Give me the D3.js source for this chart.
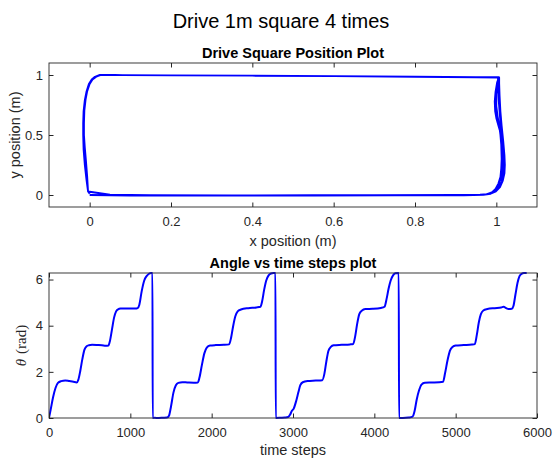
<!DOCTYPE html>
<html>
<head>
<meta charset="utf-8">
<script src="https://cdn.jsdelivr.net/npm/d3@7"></script>
<style>
  body { margin: 0; background: #fff; }
  text { font-family: "Liberation Sans", Arial, sans-serif; fill: #262626; }
</style>
</head>
<body>
<svg id="fig"></svg>
<script>
// Robot position, 4 laps of the square (x, y in metres)
const posX = [
  0.000, 0.10, 0.30, 0.50, 0.70, 0.90, 0.960, 0.978, 0.990, 0.999, 1.006, 1.011, 1.014, 1.015, 1.014, 1.012, 1.009, 1.006, 1.004, 1.004,
  0.950, 0.80, 0.60, 0.40, 0.20, 0.08, 0.027, 0.015, 0.006, -0.001, -0.007, -0.011, -0.014, -0.015, -0.015, -0.013, -0.010, -0.007, -0.004,
  0.05, 0.15, 0.35, 0.55, 0.75, 0.92, 0.965, 0.983, 0.996, 1.006, 1.013, 1.017, 1.019, 1.018, 1.014, 1.010, 1.005, 1.000, 0.997, 0.996, 0.998, 1.002, 1.006,
  0.950, 0.80, 0.60, 0.40, 0.20, 0.08, 0.025, 0.013, 0.005, -0.002, -0.008, -0.012, -0.015, -0.016, -0.016, -0.015, -0.012, -0.008, -0.004,
  0.05, 0.15, 0.35, 0.55, 0.75, 0.92, 0.968, 0.986, 0.999, 1.009, 1.016, 1.020, 1.021, 1.020, 1.017, 1.013, 1.010, 1.008, 1.007, 1.007,
  0.950, 0.80, 0.60, 0.40, 0.20, 0.08, 0.026, 0.014, 0.006, -0.001, -0.007, -0.011, -0.014, -0.015, -0.014, -0.012, -0.009, -0.006, -0.004,
  0.05, 0.15, 0.35, 0.55, 0.75, 0.90, 0.955, 0.975, 0.989, 0.998, 1.005, 1.010, 1.012, 1.013, 1.012, 1.010, 1.007, 1.003, 1.000, 1.000, 1.002, 1.005,
  0.950, 0.80, 0.60, 0.40, 0.20, 0.08, 0.028, 0.016, 0.007, 0.000, -0.006, -0.010, -0.013, -0.014, -0.014, -0.013, -0.011, -0.007, -0.004, 0.000
];
const posY = [
  0.000, -0.004, -0.004, -0.003, -0.002, 0.000, 0.002, 0.008, 0.025, 0.050, 0.090, 0.140, 0.200, 0.280, 0.400, 0.520, 0.650, 0.780, 0.900, 0.978,
  0.980, 0.984, 0.990, 0.994, 0.997, 0.999, 1.000, 0.985, 0.960, 0.920, 0.860, 0.790, 0.700, 0.600, 0.500, 0.380, 0.250, 0.130, 0.030,
  0.003, -0.002, -0.003, -0.002, -0.001, 0.000, 0.003, 0.010, 0.030, 0.060, 0.110, 0.170, 0.240, 0.330, 0.450, 0.520, 0.580, 0.640, 0.700, 0.780, 0.860, 0.940, 0.982,
  0.982, 0.986, 0.990, 0.994, 0.997, 0.999, 1.001, 0.985, 0.962, 0.925, 0.860, 0.790, 0.700, 0.600, 0.500, 0.380, 0.250, 0.130, 0.028,
  0.001, -0.004, -0.005, -0.004, -0.003, -0.002, 0.001, 0.010, 0.030, 0.065, 0.120, 0.180, 0.250, 0.330, 0.450, 0.580, 0.700, 0.830, 0.930, 0.980,
  0.981, 0.985, 0.990, 0.994, 0.997, 0.999, 0.999, 0.984, 0.960, 0.922, 0.860, 0.790, 0.700, 0.600, 0.500, 0.400, 0.280, 0.150, 0.030,
  0.002, -0.003, -0.004, -0.003, -0.002, -0.001, 0.001, 0.006, 0.022, 0.050, 0.095, 0.150, 0.220, 0.300, 0.420, 0.500, 0.580, 0.660, 0.740, 0.840, 0.930, 0.979,
  0.980, 0.984, 0.990, 0.994, 0.997, 0.999, 1.000, 0.986, 0.962, 0.925, 0.865, 0.795, 0.705, 0.600, 0.500, 0.390, 0.260, 0.140, 0.030, 0.010
];

// Heading angle against time step
const stepT = [
  0, 20, 50, 80, 110, 150, 200, 250, 300, 340, 360, 385, 410, 435, 460, 490, 530, 600, 650, 700, 730, 750, 775, 800, 825, 850, 880, 930, 1000, 1060, 1090, 1110, 1140, 1170, 1200, 1230, 1255, 1272,
  1275, 1300, 1350, 1400, 1450, 1475, 1500, 1530, 1560, 1590, 1640, 1700, 1780, 1830, 1850, 1880, 1910, 1940, 1980, 2050, 2150, 2215, 2240, 2265, 2290, 2320, 2360, 2450, 2550, 2600, 2620, 2645, 2670, 2700, 2730, 2760, 2784,
  2788, 2850, 2900, 2940, 2965, 2985, 3010, 3040, 3065, 3090, 3120, 3180, 3280, 3360, 3385, 3410, 3435, 3465, 3500, 3600, 3700, 3740, 3765, 3790, 3815, 3845, 3890, 3980, 4080, 4125, 4150, 4175, 4200, 4230, 4260, 4300,
  4304, 4350, 4420, 4470, 4495, 4520, 4550, 4580, 4620, 4700, 4800, 4845, 4870, 4900, 4930, 4960, 5000, 5100, 5200, 5235, 5260, 5285, 5310, 5340, 5390, 5480, 5560, 5590, 5620, 5650, 5690, 5710, 5735, 5760, 5785, 5810, 5840, 5873
];
const thetaVals = [
  0, 0.35, 0.9, 1.3, 1.52, 1.6, 1.63, 1.6, 1.57, 1.54, 1.65, 2.05, 2.55, 2.95, 3.1, 3.15, 3.17, 3.16, 3.15, 3.13, 3.14, 3.35, 3.85, 4.35, 4.62, 4.71, 4.74, 4.75, 4.74, 4.74, 4.76, 4.9, 5.5, 5.95, 6.15, 6.25, 6.28, 6.28,
  0, 0.01, 0.0, 0.01, 0.02, 0.1, 0.5, 1.1, 1.42, 1.52, 1.55, 1.54, 1.53, 1.54, 1.75, 2.3, 2.8, 3.05, 3.14, 3.16, 3.17, 3.19, 3.5, 4.0, 4.4, 4.62, 4.7, 4.76, 4.79, 4.82, 5.05, 5.55, 5.95, 6.18, 6.26, 6.28, 6.28,
  0, 0.01, 0.02, 0.04, 0.15, 0.3, 0.42, 0.75, 1.1, 1.42, 1.55, 1.6, 1.62, 1.64, 1.9, 2.45, 2.9, 3.08, 3.15, 3.17, 3.19, 3.21, 3.55, 4.1, 4.5, 4.65, 4.72, 4.73, 4.77, 4.82, 5.15, 5.6, 5.95, 6.18, 6.27, 6.28,
  0, 0.0, 0.02, 0.06, 0.3, 0.78, 1.2, 1.45, 1.53, 1.54, 1.55, 1.57, 1.95, 2.5, 2.92, 3.08, 3.14, 3.16, 3.18, 3.2, 3.6, 4.15, 4.5, 4.66, 4.72, 4.76, 4.79, 4.82, 4.76, 4.72, 4.73, 4.85, 5.35, 5.85, 6.15, 6.25, 6.28, 6.28
];

// Tick values
const posXTicks = [0, 0.2, 0.4, 0.6, 0.8, 1];
const posYTicks = [0, 0.5, 1];
const stepTicks = [0, 1000, 2000, 3000, 4000, 5000, 6000];
const thetaTicks = [0, 2, 4, 6];

const W = 553, H = 459;
const svg = d3.select("#fig").attr("width", W).attr("height", H);
svg.append("rect").attr("width", W).attr("height", H).attr("fill", "#fff");

//Figure title
svg.append("text")
  .attr("x", 281).attr("y", 28)
  .attr("text-anchor", "middle")
  .style("font-size", "20px")
  .style("fill", "#000")
  .text("Drive 1m square 4 times");

//Draws one framed axes box with inward ticks on all four sides
function drawAxes(box, xScale, yScale, xTicks, yTicks, fmtX, fmtY) {
  const g = svg.append("g");
  const w = box.right - box.left, h = box.bottom - box.top;
  const tick = 4.5;

  g.append("g").attr("transform", "translate(0," + box.bottom + ")")
    .call(d3.axisBottom(xScale).tickValues(xTicks).tickFormat(fmtX).tickSizeInner(-tick).tickSizeOuter(0).tickPadding(10));
  g.append("g").attr("transform", "translate(" + box.left + ",0)")
    .call(d3.axisLeft(yScale).tickValues(yTicks).tickFormat(fmtY).tickSizeInner(-tick).tickSizeOuter(0).tickPadding(6));
  g.append("g").attr("transform", "translate(0," + box.top + ")")
    .call(d3.axisTop(xScale).tickValues(xTicks).tickFormat("").tickSizeInner(-tick).tickSizeOuter(0));
  g.append("g").attr("transform", "translate(" + box.right + ",0)")
    .call(d3.axisRight(yScale).tickValues(yTicks).tickFormat("").tickSizeInner(-tick).tickSizeOuter(0));

  g.selectAll(".domain").remove();
  g.selectAll(".tick line").attr("stroke", "#262626");
  g.selectAll(".tick text")
    .style("font-size", "13px")
    .style("font-family", "'Liberation Sans', Arial, sans-serif")
    .attr("fill", "#333");

  g.append("rect")
    .attr("x", box.left).attr("y", box.top)
    .attr("width", w).attr("height", h)
    .attr("fill", "none")
    .attr("stroke", "#262626")
    .attr("stroke-width", 0.9);
}

//Top subplot: position
const box1 = {left: 49, right: 537, top: 63, bottom: 207};
const x1 = d3.scaleLinear().domain([-0.1, 1.1]).range([box1.left, box1.right]);
const y1 = d3.scaleLinear().domain([-0.1, 1.1]).range([box1.bottom, box1.top]);

const posData = posX.map((v, i) => ({x: v, y: posY[i]}));
svg.append("path")
  .datum(posData)
  .attr("fill", "none")
  .attr("stroke", "#0000ff")
  .attr("stroke-width", 1.8)
  .attr("stroke-linejoin", "round")
  .attr("d", d3.line().x(d => x1(d.x)).y(d => y1(d.y)));

drawAxes(box1, x1, y1, posXTicks, posYTicks, d3.format("~g"), d3.format("~g"));

svg.append("text")
  .attr("x", (box1.left + box1.right) / 2).attr("y", 58)
  .attr("text-anchor", "middle")
  .style("font-size", "14.5px").style("font-weight", "bold").style("fill", "#000")
  .text("Drive Square Position Plot");
svg.append("text")
  .attr("x", (box1.left + box1.right) / 2).attr("y", 246)
  .attr("text-anchor", "middle")
  .style("font-size", "14.5px")
  .text("x position (m)");
svg.append("text")
  .attr("transform", "translate(20," + (box1.top + box1.bottom) / 2 + ") rotate(-90)")
  .attr("text-anchor", "middle")
  .style("font-size", "14.5px")
  .text("y position (m)");

//Bottom subplot: angle vs time steps
const box2 = {left: 49, right: 537, top: 273, bottom: 418};
const x2 = d3.scaleLinear().domain([0, 6000]).range([box2.left, box2.right]);
const y2 = d3.scaleLinear().domain([0, 2 * Math.PI]).range([box2.bottom, box2.top]);

svg.append("clipPath").attr("id", "clip2")
  .append("rect")
  .attr("x", box2.left).attr("y", box2.top - 1)
  .attr("width", box2.right - box2.left).attr("height", box2.bottom - box2.top + 2);

const angData = stepT.map((v, i) => ({t: v, a: thetaVals[i]}));
svg.append("path")
  .datum(angData)
  .attr("clip-path", "url(#clip2)")
  .attr("fill", "none")
  .attr("stroke", "#0000ff")
  .attr("stroke-width", 2)
  .attr("d", d3.line().curve(d3.curveMonotoneX).x(d => x2(d.t)).y(d => y2(d.a)));

drawAxes(box2, x2, y2, stepTicks, thetaTicks, d3.format("d"), d3.format("d"));

svg.append("text")
  .attr("x", (box2.left + box2.right) / 2).attr("y", 268)
  .attr("text-anchor", "middle")
  .style("font-size", "14.5px").style("font-weight", "bold").style("fill", "#000")
  .text("Angle vs time steps plot");
svg.append("text")
  .attr("x", (box2.left + box2.right) / 2).attr("y", 455)
  .attr("text-anchor", "middle")
  .style("font-size", "14.5px")
  .text("time steps");

//LaTeX-style y label: italic theta with roman "(rad)"
const thetaLabel = svg.append("text")
  .attr("transform", "translate(26," + (box2.top + box2.bottom) / 2 + ") rotate(-90)")
  .attr("text-anchor", "middle")
  .style("font-family", "'Liberation Serif', 'DejaVu Serif', serif")
  .style("font-size", "15px");
thetaLabel.append("tspan").style("font-style", "italic").text("θ");
thetaLabel.append("tspan").attr("dx", 5).text("(rad)");
</script>
</body>
</html>
